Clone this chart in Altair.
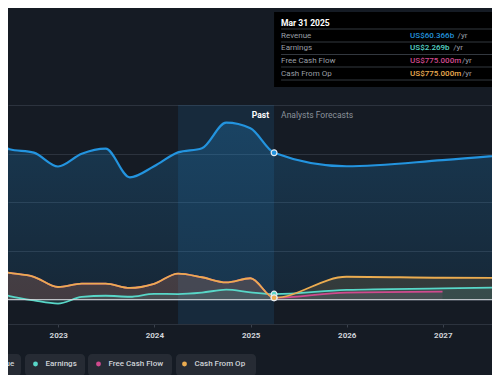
import altair as alt
import pandas as pd

# ---------------- data ----------------
series_names = ["Revenue", "Earnings", "Free Cash Flow", "Cash From Op"]
series_colors = ["#2394df", "#58d7c8", "#d04a8e", "#ebac50"]

past_dates = ["2022-03-31", "2022-06-30", "2022-09-30", "2022-12-31",
              "2023-03-31", "2023-06-30", "2023-09-30", "2023-12-31",
              "2024-03-31", "2024-06-30", "2024-09-30", "2024-12-31",
              "2025-03-31"]
revenue_past = [65.5, 61.8, 60.4, 54.7, 59.9, 62.0, 50.2, 54.8, 60.5, 62.2, 72.7, 70.4, 60.366]
earnings_past = [4.2, 1.5, -0.3, -1.6, 1.1, 1.6, 1.2, 2.4, 2.3, 2.9, 4.1, 3.0, 2.269]
cfo_past = [12.5, 11.0, 9.4, 5.2, 6.6, 6.6, 4.8, 6.5, 10.7, 9.2, 7.1, 8.8, 0.775]
fcf_past = [12.5, 11.0, 9.4, 5.2, 6.6, 6.6, 4.8, 6.5, 10.7, 9.2, 7.1, 8.8, 0.775]

forecast_dates = ["2025-03-31", "2025-12-31", "2026-12-31", "2027-12-31"]
revenue_fc = [60.366, 54.8, 57.3, 60.6]
earnings_fc = [2.269, 4.0, 4.6, 5.2]
cfo_fc = [0.775, 9.4, 9.0, 8.9]
fcf_fc_dates = ["2025-03-31", "2025-12-31", "2026-12-31"]
fcf_fc = [0.775, 2.9, 3.3]

x_tick_years = [2023, 2024, 2025, 2026, 2027]
y_grid_values = [0, 20, 40, 60, 80]

past_start = "2024-03-31"
latest_date = "2025-03-31"
phase_labels = ["Past", "Analysts Forecasts"]

tip_title = "Mar 31 2025"
tip_labels = ["Revenue", "Earnings", "Free Cash Flow", "Cash From Op"]
tip_values = ["US$60.366b", "US$2.269b", "US$775.000m", "US$775.000m"]
tip_suffix = "/yr"

# ---------------- layout / style ----------------
W, H = 484, 316
BG = "#151b24"
FONT = "Roboto"
# legend "pill" backgrounds (pixel layout, left/right edges)
PILLS = [(-70, 13), (17, 77), (80, 164), (168, 248)]


def frame(name, dates, vals):
    return pd.DataFrame({"date": dates, "value": vals, "series": name})


rev_df = pd.concat([frame("Revenue", past_dates, revenue_past),
                    frame("Revenue", forecast_dates[1:], revenue_fc[1:])])
earn_df = pd.concat([frame("Earnings", past_dates, earnings_past),
                     frame("Earnings", forecast_dates[1:], earnings_fc[1:])])
cfo_df = pd.concat([frame("Cash From Op", past_dates, cfo_past),
                    frame("Cash From Op", forecast_dates[1:], cfo_fc[1:])])
fcf_df = pd.concat([frame("Free Cash Flow", past_dates, fcf_past),
                    frame("Free Cash Flow", fcf_fc_dates[1:], fcf_fc[1:])])

x_scale = alt.Scale(type="utc", nice=False, domain=[
    alt.DateTime(year=2022, month=6, date=24, utc=True),
    alt.DateTime(year=2027, month=7, date=7, utc=True)])
y_scale = alt.Scale(domain=[-10, 119.8], nice=False, zero=False)
color_scale = alt.Scale(domain=series_names, range=series_colors)

x_axis = alt.Axis(
    values=[alt.DateTime(year=y, month=1, date=1, utc=True) for y in x_tick_years],
    format="%Y", title=None, grid=False, labelColor="#d0d4d9", labelFontSize=8,
    labelFontWeight="bold", labelFont=FONT, tickColor="#3a414c", tickSize=3,
    domainColor="#2c333e", labelPadding=4, labelFlush=False)
y_axis = alt.Axis(values=y_grid_values, grid=True, gridColor="#2c333e",
                  labels=False, ticks=False, domain=False, title=None)

X = alt.X("date:T", scale=x_scale, axis=x_axis)
Y = alt.Y("value:Q", scale=y_scale, axis=y_axis)

# past highlight band
band_df = pd.DataFrame({"start": [past_start], "end": [latest_date]})
band = alt.Chart(band_df).mark_rect(color="#2394df", opacity=0.13).encode(
    x=alt.X("start:T", scale=x_scale, axis=x_axis), x2="end:T",
    y=alt.YDatum(80, scale=y_scale, axis=y_axis), y2=alt.Y2Datum(-10))

# revenue area
rev_area = alt.Chart(rev_df).mark_area(
    interpolate="monotone",
    color=alt.Gradient(gradient="linear",
                       stops=[alt.GradientStop(color="rgba(35,148,223,0.24)", offset=0),
                              alt.GradientStop(color="rgba(35,148,223,0.10)", offset=1)],
                       x1=1, x2=1, y1=0, y2=1)
).encode(x=X, y=Y, y2=alt.Y2Datum(0))

fcf_area = alt.Chart(fcf_df).mark_area(interpolate="monotone", color="#d04a8e", opacity=0.10).encode(
    x=X, y=Y, y2=alt.Y2Datum(0))
cfo_area = alt.Chart(cfo_df).mark_area(interpolate="monotone", color="#ebac50", opacity=0.14).encode(
    x=X, y=Y, y2=alt.Y2Datum(0))
earn_area = alt.Chart(earn_df).mark_area(interpolate="monotone", color="#58d7c8", opacity=0.12).encode(
    x=X, y=Y, y2=alt.Y2Datum(0))


def line(df, col, width):
    return alt.Chart(df).mark_line(interpolate="monotone", strokeWidth=width, color=col).encode(x=X, y=Y)


rev_line = line(rev_df, series_colors[0], 2.2)
earn_line = line(earn_df, series_colors[1], 1.8)
fcf_line = line(fcf_df, series_colors[2], 1.8)
cfo_line = line(cfo_df, series_colors[3], 1.8)

zero_rule = alt.Chart(pd.DataFrame({"v": [0]})).mark_rule(color="#d4d8dd", strokeWidth=1).encode(
    y=alt.Y("v:Q", scale=y_scale, axis=y_axis))

# latest markers (also the legend source)
mk_df = pd.DataFrame({
    "date": [latest_date] * 4,
    "series": ["Free Cash Flow", "Earnings", "Cash From Op", "Revenue"],
    "value": [fcf_past[-1], earnings_past[-1], cfo_past[-1], revenue_past[-1]],
})
markers = alt.Chart(mk_df).mark_point(filled=True, size=34, stroke="#e6ebf0", strokeWidth=1.2, opacity=1).encode(
    x=X, y=Y,
    color=alt.Color("series:N", scale=color_scale, legend=alt.Legend(
        orient="none", legendX=-38.5, legendY=352, direction="horizontal", title=None,
        symbolType="circle", symbolSize=24, symbolStrokeWidth=0, symbolOpacity=1,
        labelFontSize=8, labelColor="#cfd3d8", labelFont=FONT, labelFontWeight=500,
        columnPadding=17, labelOffset=6, padding=0)))

# legend pill backgrounds
lab_df = pd.DataFrame({"date": [latest_date]})
pill_layers = [
    alt.Chart(lab_df).mark_rect(color="#262b34", cornerRadius=4).encode(
        x=alt.value(a), x2=alt.value(b), y=alt.value(346), y2=alt.value(368))
    for a, b in PILLS
]

# Past / Analysts Forecasts labels
past_txt = alt.Chart(lab_df).mark_text(align="right", baseline="middle", dx=-5, fontSize=8.5,
                                       fontWeight="bold", color="#ffffff", font=FONT).encode(
    x=X, y=alt.value(106.5), text=alt.value(phase_labels[0]))
fc_txt = alt.Chart(lab_df).mark_text(align="left", baseline="middle", dx=7, fontSize=8.5,
                                     color="#8b929b", font=FONT).encode(
    x=X, y=alt.value(106.5), text=alt.value(phase_labels[1]))

# tooltip box
tip_box = alt.Chart(lab_df).mark_rect(color="#000000").encode(
    x=X, x2=alt.value(W + 20), y=alt.value(4), y2=alt.value(79))
tip_layers = [tip_box]
tip_layers.append(alt.Chart(lab_df).mark_text(align="left", baseline="middle", dx=7, fontSize=8.5,
                                              fontWeight="bold", color="#ffffff", font=FONT).encode(
    x=X, y=alt.value(14.5), text=alt.value(tip_title)))
sep_y = [21, 34, 46.5, 59, 72]
for yy in sep_y:
    tip_layers.append(alt.Chart(lab_df).mark_rule(color="#33383f", strokeWidth=1, xOffset=7).encode(
        x=X, x2=alt.value(W + 20), y=alt.value(yy)))
row_y = [27.8, 40.3, 53, 65.8]
for i in range(4):
    tip_layers.append(alt.Chart(lab_df).mark_text(align="left", baseline="middle", dx=7, fontSize=8,
                                                  color="#9a9fa6", font=FONT).encode(
        x=X, y=alt.value(row_y[i]), text=alt.value(tip_labels[i])))
    tip_layers.append(alt.Chart(lab_df).mark_text(align="left", baseline="middle", dx=136, fontSize=8,
                                                  fontWeight=500, color=series_colors[i], font=FONT).encode(
        x=X, y=alt.value(row_y[i]), text=alt.value(tip_values[i])))
    w = 4.45 * len(tip_values[i])
    tip_layers.append(alt.Chart(lab_df).mark_text(align="left", baseline="middle", dx=136 + w + 3, fontSize=8,
                                                  color="#9a9fa6", font=FONT).encode(
        x=X, y=alt.value(row_y[i]), text=alt.value(tip_suffix)))

chart = alt.layer(
    band, rev_area, fcf_area, cfo_area, earn_area,
    rev_line, earn_line, fcf_line, cfo_line,
    zero_rule, markers, past_txt, fc_txt, *pill_layers, *tip_layers
).properties(
    width=W, height=H,
    autosize=alt.AutoSizeParams(type="none"),
    padding={"left": 0, "top": 0, "right": 0, "bottom": 51},
).configure(
    background=BG, font=FONT
).configure_view(strokeWidth=0)

chart.save("out.html", embed_options={"renderer": "svg", "actions": False})
